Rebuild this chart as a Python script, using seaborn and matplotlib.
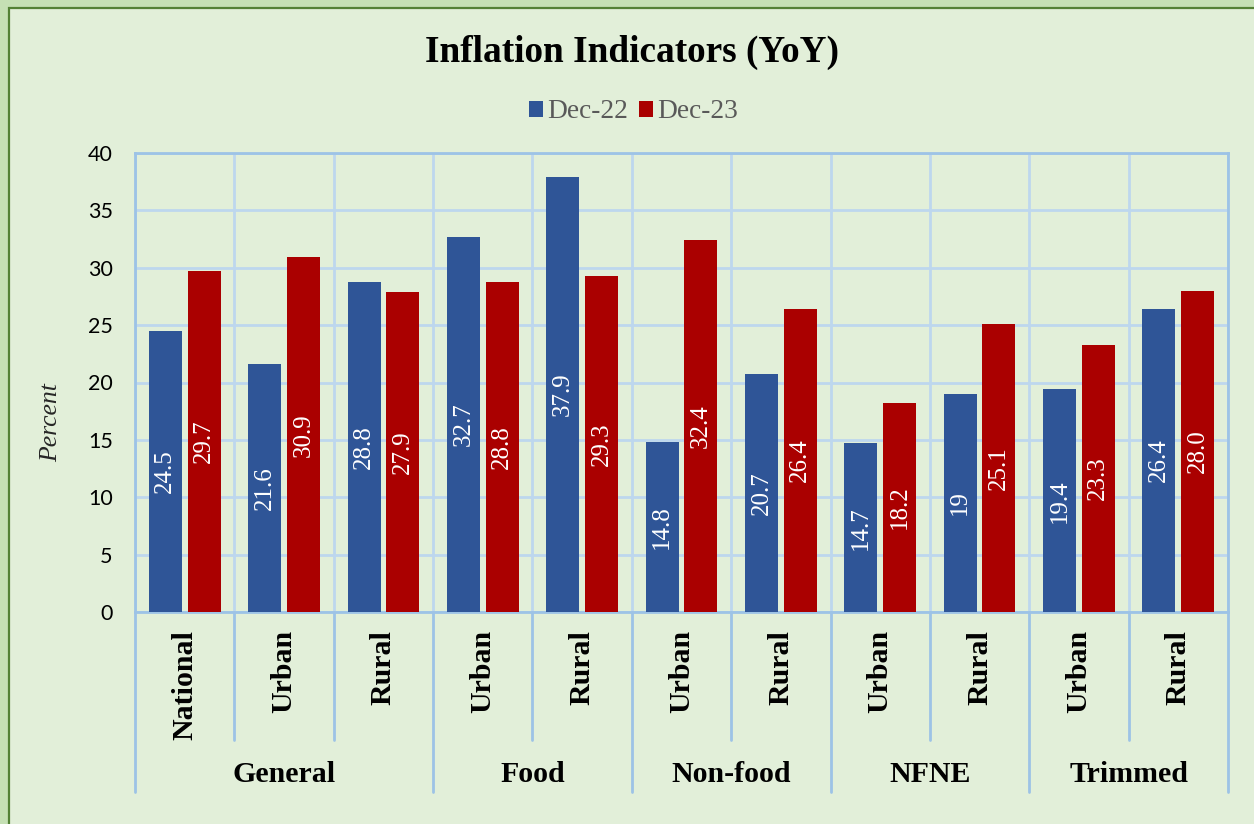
import matplotlib
matplotlib.use("Agg")
import matplotlib.pyplot as plt
import matplotlib.patches as mpatches
import matplotlib.transforms as mtransforms
from matplotlib.lines import Line2D
import seaborn as sns
import pandas as pd

# ---- data ----
groups = ["General", "General", "General", "Food", "Food", "Non-food", "Non-food",
          "NFNE", "NFNE", "Trimmed", "Trimmed"]
subcats = ["National", "Urban", "Rural", "Urban", "Rural", "Urban", "Rural",
           "Urban", "Rural", "Urban", "Rural"]
dec22 = [24.5, 21.6, 28.8, 32.7, 37.9, 14.8, 20.7, 14.7, 19.0, 19.4, 26.4]
dec23 = [29.7, 30.9, 27.9, 28.8, 29.3, 32.4, 26.4, 18.2, 25.1, 23.3, 28.0]
dec22_labels = ["24.5", "21.6", "28.8", "32.7", "37.9", "14.8", "20.7", "14.7", "19", "19.4", "26.4"]
dec23_labels = ["29.7", "30.9", "27.9", "28.8", "29.3", "32.4", "26.4", "18.2", "25.1", "23.3", "28.0"]
series_names = ["Dec-22", "Dec-23"]
group_names = ["General", "Food", "Non-food", "NFNE", "Trimmed"]
yticks = [0, 5, 10, 15, 20, 25, 30, 35, 40]

BLUE = "#2F5597"
RED = "#AA0000"
BG = "#E2EFD9"
OUTER = "#C5E0B4"
GRID_LIGHT = "#BDD7EE"
GRID_DARK = "#9DC3E6"
SERIF = "Liberation Serif"

keys = [f"{g}|{s}|{i}" for i, (g, s) in enumerate(zip(groups, subcats))]
df = pd.DataFrame({
    "key": keys * 2,
    "period": [series_names[0]] * len(keys) + [series_names[1]] * len(keys),
    "value": dec22 + dec23,
})

sns.set_theme(style="white")
plt.rcParams["font.family"] = ["Lato", "DejaVu Sans"]

fig = plt.figure(figsize=(12.54, 8.24), dpi=100, facecolor=OUTER)
# inner panel with border
fig.patches.append(mpatches.Rectangle((8.5 / 1254, -0.1), 1.2, 1 - 8.5 / 824 + 0.1,
                                      transform=fig.transFigure, facecolor=BG,
                                      edgecolor="#538135", linewidth=1.6, zorder=-5))

ax = fig.add_axes([135 / 1254, 1 - 612 / 824, (1228 - 135) / 1254, (612 - 153) / 824])
ax.set_zorder(2)
ax.set_facecolor(BG)

sns.barplot(data=df, x="key", y="value", hue="period", order=keys,
            hue_order=series_names, palette=[BLUE, RED], width=0.78, gap=0.15,
            saturation=1, ax=ax, zorder=3, legend=False, linewidth=0,
            edgecolor="none")

ax.set_ylim(0, 40)
ax.set_xlim(-0.5, len(keys) - 0.5)
ax.set_yticks(yticks)
ax.set_yticklabels([str(t) for t in yticks], fontsize=15.5, color="black")
ax.set_xticks(range(len(keys)))
ax.set_xticklabels(subcats, rotation=90, fontsize=21.5, fontweight="bold",
                   family=SERIF, color="black")
ax.tick_params(axis="x", length=0, pad=13)
ax.tick_params(axis="y", length=0, pad=16)
ax.set_xlabel("")
ax.set_ylabel("Percent", family=SERIF, fontstyle="italic", fontsize=18.5)
ax.yaxis.label.set_va("center")
ax.yaxis.set_label_coords((51 - 135) / 1093, (612 - 423) / 459)

# gridlines
ax.set_xticks([i + 0.5 for i in range(-1, len(keys))], minor=True)
ax.tick_params(axis="x", which="minor", length=0)
ax.grid(axis="y", which="major", color=GRID_LIGHT, linewidth=2, zorder=0)
ax.grid(axis="x", which="minor", color=GRID_LIGHT, linewidth=2, zorder=0)
ax.grid(axis="x", which="major", visible=False)
ax.set_axisbelow(True)
for side, sp in ax.spines.items():
    sp.set_visible(True)
    sp.set_color(GRID_DARK)
    sp.set_linewidth(2)

# bar value labels
containers = ax.containers
for cont, labs in zip(containers, [dec22_labels, dec23_labels]):
    ax.bar_label(cont, labels=labs, label_type="center", rotation=90,
                 color="white", fontsize=18, family=SERIF)

# separators below the axis and group labels
trans = mtransforms.blended_transform_factory(ax.transData, ax.transAxes)
group_bounds = []
start = 0
for gi in range(1, len(groups) + 1):
    if gi == len(groups) or groups[gi] != groups[gi - 1]:
        group_bounds.append((start, gi - 1))
        start = gi
bound_positions = set()
for s, e in group_bounds:
    bound_positions.add(s - 0.5)
    bound_positions.add(e + 0.5)
for i in range(len(keys) + 1):
    xpos = i - 0.5
    ylow = -0.392 if xpos in bound_positions else -0.279
    ax.add_line(Line2D([xpos, xpos], [0, ylow], transform=trans, color=GRID_DARK,
                       linewidth=2, clip_on=False))
for (s, e), name in zip(group_bounds, group_names):
    ax.text((s + e) / 2, -0.353, name, transform=trans, ha="center", va="center",
            fontsize=21.5, fontweight="bold", family=SERIF, color="black")

# title and legend
fig.text(0.504, 1 - 52 / 824, "Inflation Indicators (YoY)", ha="center", va="center",
         fontsize=26.8, fontweight="bold", family=SERIF, color="black")
handles = [mpatches.Patch(facecolor=BLUE, edgecolor="none"),
           mpatches.Patch(facecolor=RED, edgecolor="none")]
leg = fig.legend(handles, series_names, loc="center", bbox_to_anchor=(0.505, 1 - 112 / 824),
                 ncol=2, frameon=False, prop={"family": SERIF, "size": 19.7},
                 handlelength=0.52, handleheight=0.52, handletextpad=0.15,
                 columnspacing=0.4)
for t in leg.get_texts():
    t.set_color("#595959")

fig.savefig("out.png", dpi=100, facecolor=fig.get_facecolor())
